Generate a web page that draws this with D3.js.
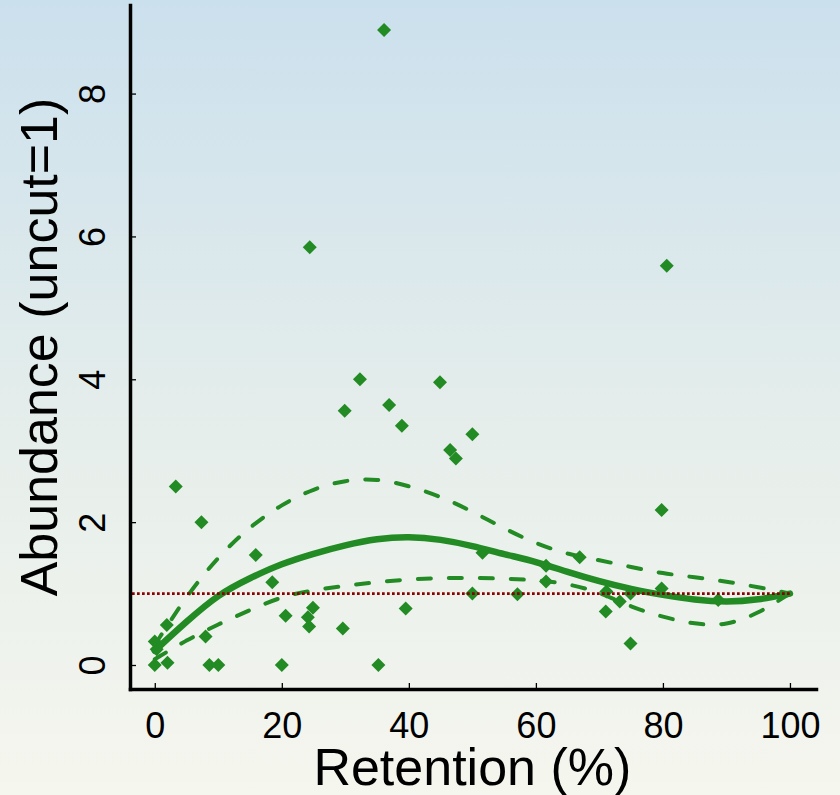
<!DOCTYPE html>
<html>
<head>
<meta charset="utf-8">
<script src="https://cdn.jsdelivr.net/npm/d3@7"></script>
<style>
  html, body { margin: 0; padding: 0; background: #f5f6ee; }
  svg { display: block; }
  text { font-family: "Liberation Sans", Arial, sans-serif; fill: #000; }
</style>
</head>
<body>
<svg id="chart" width="840" height="795"></svg>
<script>
// ---- data ----
const pointX = [36.1, 24.4, 80.6, 32.3, 44.9, 36.9, 29.9, 38.9, 50.0, 46.5, 47.4, 3.3, 7.35, 79.8,
  15.9, 18.5, 51.6, 66.9, 61.6, 61.6, 50.0, 57.1, 71.1, 71.0, 73.2, 74.9, 74.9, 79.8, 88.7,
  20.6, 24.9, 24.1, 24.3, 8.0, 1.9, 0.0, 0.3, 0.0, 2.0, 8.6, 10.0, 20.0, 35.2, 29.6, 39.5];
const pointY = [8.89, 5.85, 5.59, 4.00, 3.96, 3.64, 3.56, 3.35, 3.23, 3.01, 2.89, 2.50, 2.00, 2.17,
  1.54, 1.16, 1.57, 1.51, 1.39, 1.17, 1.00, 0.99, 1.03, 0.75, 0.89, 1.00, 0.30, 1.07, 0.91,
  0.69, 0.80, 0.67, 0.54, 0.40, 0.56, 0.33, 0.22, 0.00, 0.03, 0.00, 0.00, 0.00, 0.00, 0.51, 0.79];

const fitX   = [0, 5, 10, 15, 20, 25, 30, 35, 40, 45, 50, 55, 60, 65, 70, 75, 80, 85, 90, 95, 100];
const fitY   = [0.20, 0.61, 0.99, 1.22, 1.42, 1.56, 1.68, 1.77, 1.80, 1.76, 1.67, 1.55, 1.45, 1.30, 1.17, 1.06, 0.98, 0.91, 0.88, 0.91, 1.00];
const upperY = [0.28, 0.97, 1.52, 1.94, 2.25, 2.47, 2.59, 2.61, 2.51, 2.36, 2.15, 1.91, 1.70, 1.55, 1.47, 1.37, 1.28, 1.23, 1.17, 1.09, 1.00];
const lowerY = [0.08, 0.35, 0.57, 0.77, 0.96, 1.05, 1.11, 1.16, 1.20, 1.22, 1.22, 1.21, 1.19, 1.14, 1.02, 0.81, 0.67, 0.57, 0.55, 0.72, 1.00];

const xTicks = [0, 20, 40, 60, 80, 100];
const yTicks = [0, 2, 4, 6, 8];
const referenceLevel = 1;
const xLabel = "Retention (%)";
const yLabel = "Abundance (uncut=1)";

// ---- layout ----
const svg = d3.select("#chart");
const W = 840, H = 795;
const pLeft = 130, pRight = 816, pTop = 5, pBottom = 689;

const x = d3.scaleLinear().domain([-3.9, 104.1]).range([pLeft, pRight]);
const y = d3.scaleLinear().domain([-0.336, 9.24]).range([pBottom, pTop]);

// background gradient
const defs = svg.append("defs");
const grad = defs.append("linearGradient").attr("id", "bg").attr("x1", 0).attr("y1", 0).attr("x2", 0).attr("y2", 1);
grad.append("stop").attr("offset", "0%").attr("stop-color", "#cbe0ed");
grad.append("stop").attr("offset", "55%").attr("stop-color", "#e6eeeb");
grad.append("stop").attr("offset", "100%").attr("stop-color", "#f5f6ee");
svg.append("rect").attr("width", W).attr("height", H).attr("fill", "url(#bg)");

const green = "#238b23";

// points
const diamond = d3.symbol().type(d3.symbolSquare).size(98);
svg.append("g").selectAll("path")
  .data(pointX.map((v, i) => [v, pointY[i]]))
  .join("path")
  .attr("d", diamond)
  .attr("transform", d => `translate(${x(d[0])},${y(d[1])}) rotate(45)`)
  .attr("fill", green);

// curves
const line = d3.line().x(d => x(d[0])).y(d => y(d[1])).curve(d3.curveBasis);
svg.append("path").datum(fitX.map((v, i) => [v, upperY[i]]))
  .attr("d", line).attr("fill", "none").attr("stroke", green)
  .attr("stroke-width", 4).attr("stroke-linecap", "round").attr("stroke-dasharray", "13,18");
svg.append("path").datum(fitX.map((v, i) => [v, lowerY[i]]))
  .attr("d", line).attr("fill", "none").attr("stroke", green)
  .attr("stroke-width", 4).attr("stroke-linecap", "round").attr("stroke-dasharray", "13,18");
svg.append("path").datum(fitX.map((v, i) => [v, fitY[i]]))
  .attr("d", line).attr("fill", "none").attr("stroke", green)
  .attr("stroke-width", 6.5).attr("stroke-linecap", "round").attr("stroke-linejoin", "round");

// reference line
svg.append("line")
  .attr("x1", pLeft + 2).attr("x2", x(100))
  .attr("y1", y(referenceLevel)).attr("y2", y(referenceLevel))
  .attr("stroke", "#8b0000").attr("stroke-width", 2.7).attr("stroke-dasharray", "2.7,2.3");

// axes
const xAxis = svg.append("g").attr("transform", `translate(0,${pBottom})`)
  .call(d3.axisBottom(x).tickValues(xTicks).tickSizeInner(-6).tickSizeOuter(0));
xAxis.select(".domain").attr("stroke", "#000").attr("stroke-width", 3.5).attr("stroke-linecap", "square");
xAxis.selectAll(".tick line").attr("stroke", "#000").attr("stroke-width", 1.3);
xAxis.selectAll(".tick text").attr("y", 49).attr("dy", 0)
  .style("font-size", "36px").style("font-family", "'Liberation Sans', Arial, sans-serif").attr("fill", "#000");

const yAxis = svg.append("g").attr("transform", `translate(${pLeft},0)`)
  .call(d3.axisLeft(y).tickValues(yTicks).tickSizeInner(-6).tickSizeOuter(0));
yAxis.select(".domain").attr("stroke", "#000").attr("stroke-width", 3.5).attr("stroke-linecap", "square");
yAxis.selectAll(".tick line").attr("stroke", "#000").attr("stroke-width", 1.3);
yAxis.selectAll(".tick text")
  .attr("x", 0).attr("y", -25).attr("dy", 0)
  .attr("text-anchor", "middle").attr("transform", "rotate(-90)")
  .style("font-size", "36px").style("font-family", "'Liberation Sans', Arial, sans-serif").attr("fill", "#000");

// axis titles
svg.append("text").attr("x", (x(0) + x(100)) / 2).attr("y", 785)
  .attr("text-anchor", "middle").style("font-size", "52px").text(xLabel);
svg.append("text").attr("transform", `translate(57,${(pTop + pBottom) / 2}) rotate(-90)`)
  .attr("text-anchor", "middle").style("font-size", "52px").text(yLabel);
</script>
</body>
</html>
